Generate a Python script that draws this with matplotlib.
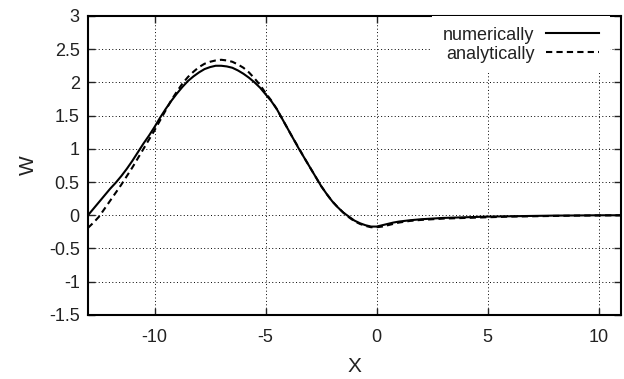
import matplotlib.pyplot as plt
import numpy as np

plt.rcParams['font.family'] = ['Liberation Sans', 'DejaVu Sans']

# values
x = [-13, -12.75, -12.5, -12.25, -12, -11.75, -11.5, -11.25, -11, -10.75,
     -10.5, -10.25, -10, -9.75, -9.5, -9.25, -9, -8.75, -8.5, -8.25,
     -8, -7.75, -7.5, -7.25, -7, -6.75, -6.5, -6.25, -6, -5.75,
     -5.5, -5.25, -5, -4.75, -4.5, -4.25, -4, -3.75, -3.5, -3.25,
     -3, -2.75, -2.5, -2.25, -2, -1.75, -1.5, -1.25, -1, -0.75,
     -0.5, -0.25, 0, 0.25, 0.5, 0.75, 1, 1.5, 2, 3,
     4, 5, 6, 7, 8, 9, 10, 11]

w_num = [0.0, 0.1, 0.2, 0.3, 0.4, 0.49, 0.59, 0.7, 0.82, 0.95,
         1.08, 1.2, 1.33, 1.47, 1.6, 1.72, 1.83, 1.93, 2.02, 2.09,
         2.15, 2.2, 2.23, 2.25, 2.25, 2.24, 2.22, 2.18, 2.13, 2.07,
         2.0, 1.92, 1.82, 1.72, 1.6, 1.45, 1.3, 1.15, 1.0, 0.86,
         0.72, 0.58, 0.44, 0.32, 0.21, 0.12, 0.04, -0.02, -0.08, -0.12,
         -0.15, -0.17, -0.17, -0.15, -0.13, -0.11, -0.095, -0.075, -0.06, -0.04,
         -0.03, -0.02, -0.015, -0.01, -0.005, -0.003, 0.0, 0.0]

w_ana = [-0.19, -0.11, -0.02, 0.1, 0.22, 0.34, 0.46, 0.59, 0.72, 0.86,
         1.0, 1.14, 1.28, 1.43, 1.58, 1.73, 1.86, 1.98, 2.08, 2.16,
         2.23, 2.28, 2.31, 2.33, 2.34, 2.33, 2.31, 2.27, 2.22, 2.15,
         2.06, 1.96, 1.84, 1.73, 1.6, 1.45, 1.3, 1.15, 1.01, 0.86,
         0.72, 0.58, 0.44, 0.32, 0.21, 0.12, 0.04, -0.03, -0.09, -0.13,
         -0.16, -0.18, -0.18, -0.17, -0.15, -0.13, -0.11, -0.085, -0.07, -0.05,
         -0.04, -0.03, -0.02, -0.015, -0.01, -0.005, -0.003, 0.0]

xticks = [-10, -5, 0, 5, 10]
yticks = [-1.5, -1, -0.5, 0, 0.5, 1, 1.5, 2, 2.5, 3]
ylabels = ["-1.5", "-1", "-0.5", "0", "0.5", "1", "1.5", "2", "2.5", "3"]

fig = plt.figure(figsize=(6.24, 3.79), dpi=100)
ax = fig.add_axes([0.141, 0.169, 0.854, 0.789])

ax.plot(x, w_num, color="black", lw=1.5, label="numerically", zorder=3,
        solid_joinstyle="round")
ax.plot(x, w_ana, color="black", lw=1.5, dashes=(3, 2), label="analytically", zorder=3)

ax.set_xlim(-13, 11)
ax.set_ylim(-1.5, 3)
ax.set_xticks(xticks)
ax.set_xticklabels([str(t) for t in xticks])
ax.set_yticks(yticks)
ax.set_yticklabels(ylabels)

ax.grid(True, color="black", lw=0.7, linestyle=(0, (1, 2.5)))
ax.set_axisbelow(True)
ax.tick_params(direction="in", length=5, width=1, top=True, right=True,
               labelsize=13, colors="#222222")
ax.tick_params(axis="x", pad=10)
ax.tick_params(axis="y", pad=6)
for s in ax.spines.values():
    s.set_linewidth(1.5)

ax.set_xlabel("X", fontsize=15, color="#222222", labelpad=8)
ax.set_ylabel("W", fontsize=15, color="#222222", labelpad=8)

leg = ax.legend(loc="upper right", markerfirst=False, fontsize=13, frameon=True,
                fancybox=False, handlelength=2.9, handletextpad=0.67,
                borderaxespad=0.0, borderpad=0.6, labelspacing=0.1,
                bbox_to_anchor=(0.979, 1.0))
leg.get_frame().set_edgecolor("none")
leg.get_frame().set_facecolor("white")
leg.get_frame().set_alpha(1.0)
for t in leg.get_texts():
    t.set_color("#222222")

plt.savefig("out.png", dpi=100)
